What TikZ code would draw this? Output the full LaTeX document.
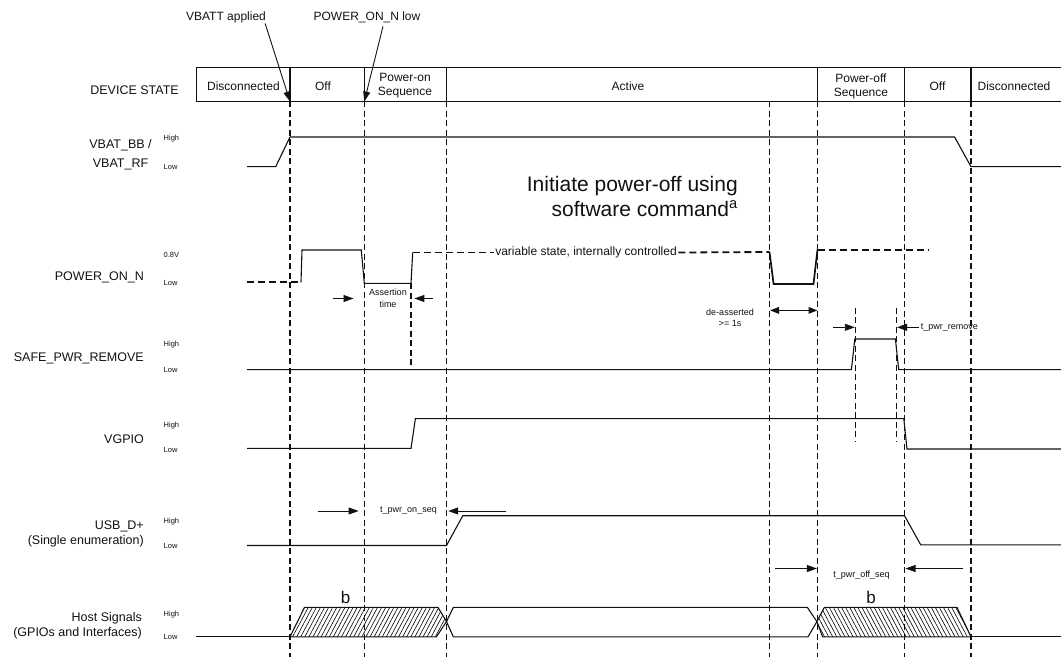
\documentclass[tikz,border=0pt]{standalone}
\usepackage{fontspec}
\setmainfont{Liberation Sans}
\usepackage{tikz}
\usetikzlibrary{arrows.meta, patterns.meta}
\definecolor{ink}{HTML}{111111}

\begin{document}
\begin{tikzpicture}[x=1pt, y=-1pt, ink,
    sig/.style={line width=1.1pt},
    pwrdash/.style={line width=1.8pt, dash pattern=on 7pt off 4pt},
    marker/.style={line width=1.3pt, dash pattern=on 6pt off 3.5pt},
    rowlabel/.style={font=\fontsize{12.5}{14.5}\selectfont, anchor=east, align=right, inner sep=0pt},
    lvl/.style={font=\fontsize{7.5}{9}\selectfont, anchor=west, inner sep=0pt},
    statetxt/.style={font=\fontsize{12}{14}\selectfont, align=center, inner sep=0pt},
    note/.style={font=\fontsize{9}{11.5}\selectfont, align=center, inner sep=0pt},
    tip/.style={-{Triangle[length=10pt,width=7pt]}, line width=0.9pt},
  ]
    \useasboundingbox (0,0) rectangle (1061,658);

    % device state bar
    \draw[line width=1pt] (1061,67.5) -- (196,67.5) -- (196,101.5) -- (1061,101.5);
    \foreach \x in {364.3, 446.5, 817.5, 904.5}
      \draw[line width=1pt] (\x,67.5) -- (\x,101.5);
    \foreach \x in {290, 971}
      \draw[line width=1.6pt] (\x,67.5) -- (\x,101.5);
    \node[rowlabel] (devstate) at (179,90) {DEVICE STATE};
    \node[statetxt] (st1) at (243.5,86) {Disconnected};
    \node[statetxt] (st2) at (323,86) {Off};
    \node[statetxt] (st3) at (405,86) {Power-on\\Sequence};
    \node[statetxt] (st4) at (628,86) {Active};
    \node[statetxt] (st5) at (861,86) {Power-off\\Sequence};
    \node[statetxt] (st6) at (937.5,86) {Off};
    \node[statetxt] (st7) at (1014,86) {Disconnected};

    % event markers
    \foreach \x/\n in {290/m0, 364.3/m1, 446.5/m2, 769.5/m3, 904.5/m5, 971/m6} {
      \coordinate (\n) at (\x,101.5);
      \draw[marker] (\n) -- (\x,657);
    }
    \coordinate (m4) at (817.5,101.5);
    \draw[marker, line width=0.9pt] (m4) -- (817.5,657);
    \draw[marker, line width=0.9pt] (855.4,307.7) -- (855.4,442.3);
    \draw[marker, line width=0.9pt] (896,307.7) -- (896,442.3);
    \draw[marker, line width=1.6pt] (411,283.3) -- (411,369.6);

    \node[statetxt] (vbatt) at (226,17.6) {VBATT applied};
    \node[statetxt] (pwrlow) at (367,17.6) {POWER\_ON\_N low};
    \draw[tip] ([xshift=-1pt]vbatt.south east) -- (m0);
    \draw[tip] ([xshift=16pt,yshift=-3pt]pwrlow.south) -- (m1);

    % row labels
    \node[statetxt, font=\fontsize{12.5}{18.5}\selectfont] (vbatlbl) at (120.5,154.5) {VBAT\_BB /\\VBAT\_RF};
    \node[rowlabel] (ponlbl) at (144,277.2) {POWER\_ON\_N};
    \node[rowlabel] (safelbl) at (144,358.4) {SAFE\_PWR\_REMOVE};
    \node[rowlabel] (vgpiolbl) at (144,438.9) {VGPIO};
    \node[rowlabel] (usblbl) at (144,534) {USB\_D+\\(Single enumeration)};
    \node[rowlabel] (hostlbl) at (142,625.8) {Host Signals\\(GPIOs and Interfaces)};
    \foreach \n/\y/\t in {h1/138.6/High, l1/167.4/Low, h2/255.2/0.8V, l2/283.3/Low,
        h3/344.9/High, l3/369.6/Low, h4/425.4/High, l4/450/Low,
        h5/521.8/High, l5/545.5/Low, h6/614.8/High, l6/636.8/Low}
      \node[lvl] (\n) at (163.5,\y) {\t};

    % VBAT_BB / VBAT_RF
    \draw[sig] (247,166.7) -- (275.7,166.7) -- (290,137) -- (954.6,137) -- (971,166.7) -- (1061,166.7);

    % POWER_ON_N
    \draw[pwrdash] (247,282.3) -- (299.4,282.3);
    \draw[sig] (301,282.3) -- (302,250) -- (361.3,250) -- (364.3,283.3) -- (411,283.3) -- (412.7,252.5);
    \node[font=\fontsize{12}{14}\selectfont, inner sep=1.5pt] (varstate) at (586,252.5) {variable state, internally controlled};
    \draw[pwrdash] (412.7,252.5) -- (varstate.west);
    \draw[pwrdash] (varstate.east) -- (769.5,252);
    \draw[line width=1.7pt] (769.5,252) -- (773.6,284) -- (813.5,284) -- (817.5,249.5);
    \draw[pwrdash] (817.5,250) -- (929,250);
    \node[font=\fontsize{21}{25}\selectfont, align=right, anchor=east, inner sep=0pt] (swcmd) at (738,196)
      {Initiate power-off using\\software command\textsuperscript{a}};

    % SAFE_PWR_REMOVE
    \draw[sig] (247,369.6) -- (851.4,369.6) -- (854.8,339) -- (895.4,339) -- (898.7,369.6) -- (1061,369.6);

    % VGPIO
    \draw[sig] (247,448.4) -- (411,448.4) -- (415.4,418.6) -- (903.8,418.6) -- (907,449) -- (1061,449);

    % USB_D+
    \draw[sig] (247,545.5) -- (446.5,545.5) -- (462.8,515.7) -- (904.5,515.7) -- (920.7,544.8) -- (1061,544.8);

    % Host signals
    \draw[sig] (196,636.8) -- (290,636.8);
    \draw[sig, pattern={Lines[angle=62, distance=3.6pt, line width=0.6pt]}]
      (290,636.8) -- (304.5,607.4) -- (438,607.4) -- (446.5,621.6) -- (436.4,636.8) -- cycle;
    \draw[sig] (446.5,621.6) -- (453.3,607.4) -- (807.4,607.4) -- (816.9,621.6) -- (808,636.8) -- (453.3,636.8) -- cycle;
    \draw[sig, pattern={Lines[angle=118, distance=3.6pt, line width=0.6pt]}]
      (816.9,621.6) -- (824.3,607.4) -- (957,607.4) -- (971,636.8) -- (822.6,636.8) -- cycle;
    \draw[sig] (971,636.8) -- (1061,636.8);
    \node[font=\fontsize{17}{20}\selectfont, inner sep=0pt] (b1) at (345.7,597) {b};
    \node[font=\fontsize{17}{20}\selectfont, inner sep=0pt] (b2) at (871,597) {b};

    % timing arrows
    \foreach \n/\a/\b/\y in {asL/333/353.5/298.5, asR/433/414.4/298.5,
        rmL/832.8/854.8/327.3, rmR/919/897/327.3,
        onL/318/358.6/511, onR/505.7/448.2/511,
        offL/775.3/816.9/568.5, offR/963/905.5/568.5} {
      \coordinate (\n-s) at (\a,\y);
      \coordinate (\n-e) at (\b,\y);
      \draw[tip] (\n-s) -- (\n-e);
    }
    \coordinate (dsL) at (770,310.4);
    \coordinate (dsR) at (817.5,310.4);
    \draw[{Triangle[length=9pt,width=6.5pt]}-{Triangle[length=9pt,width=6.5pt]}, line width=1.8pt] (dsL) -- (dsR);
    \node[note] (asrt) at (388,298.5) {Assertion\\time};
    \node[note] (deasrt) at (730,318) {de-asserted\\>= 1s};
    \node[note, anchor=west] (trm) at (920.7,328) {t\_pwr\_remove};
    \node[note] (ton) at (408.5,511) {t\_pwr\_on\_seq};
    \node[note] (toff) at (861.5,575.2) {t\_pwr\_off\_seq};
  \end{tikzpicture}
\end{document}
